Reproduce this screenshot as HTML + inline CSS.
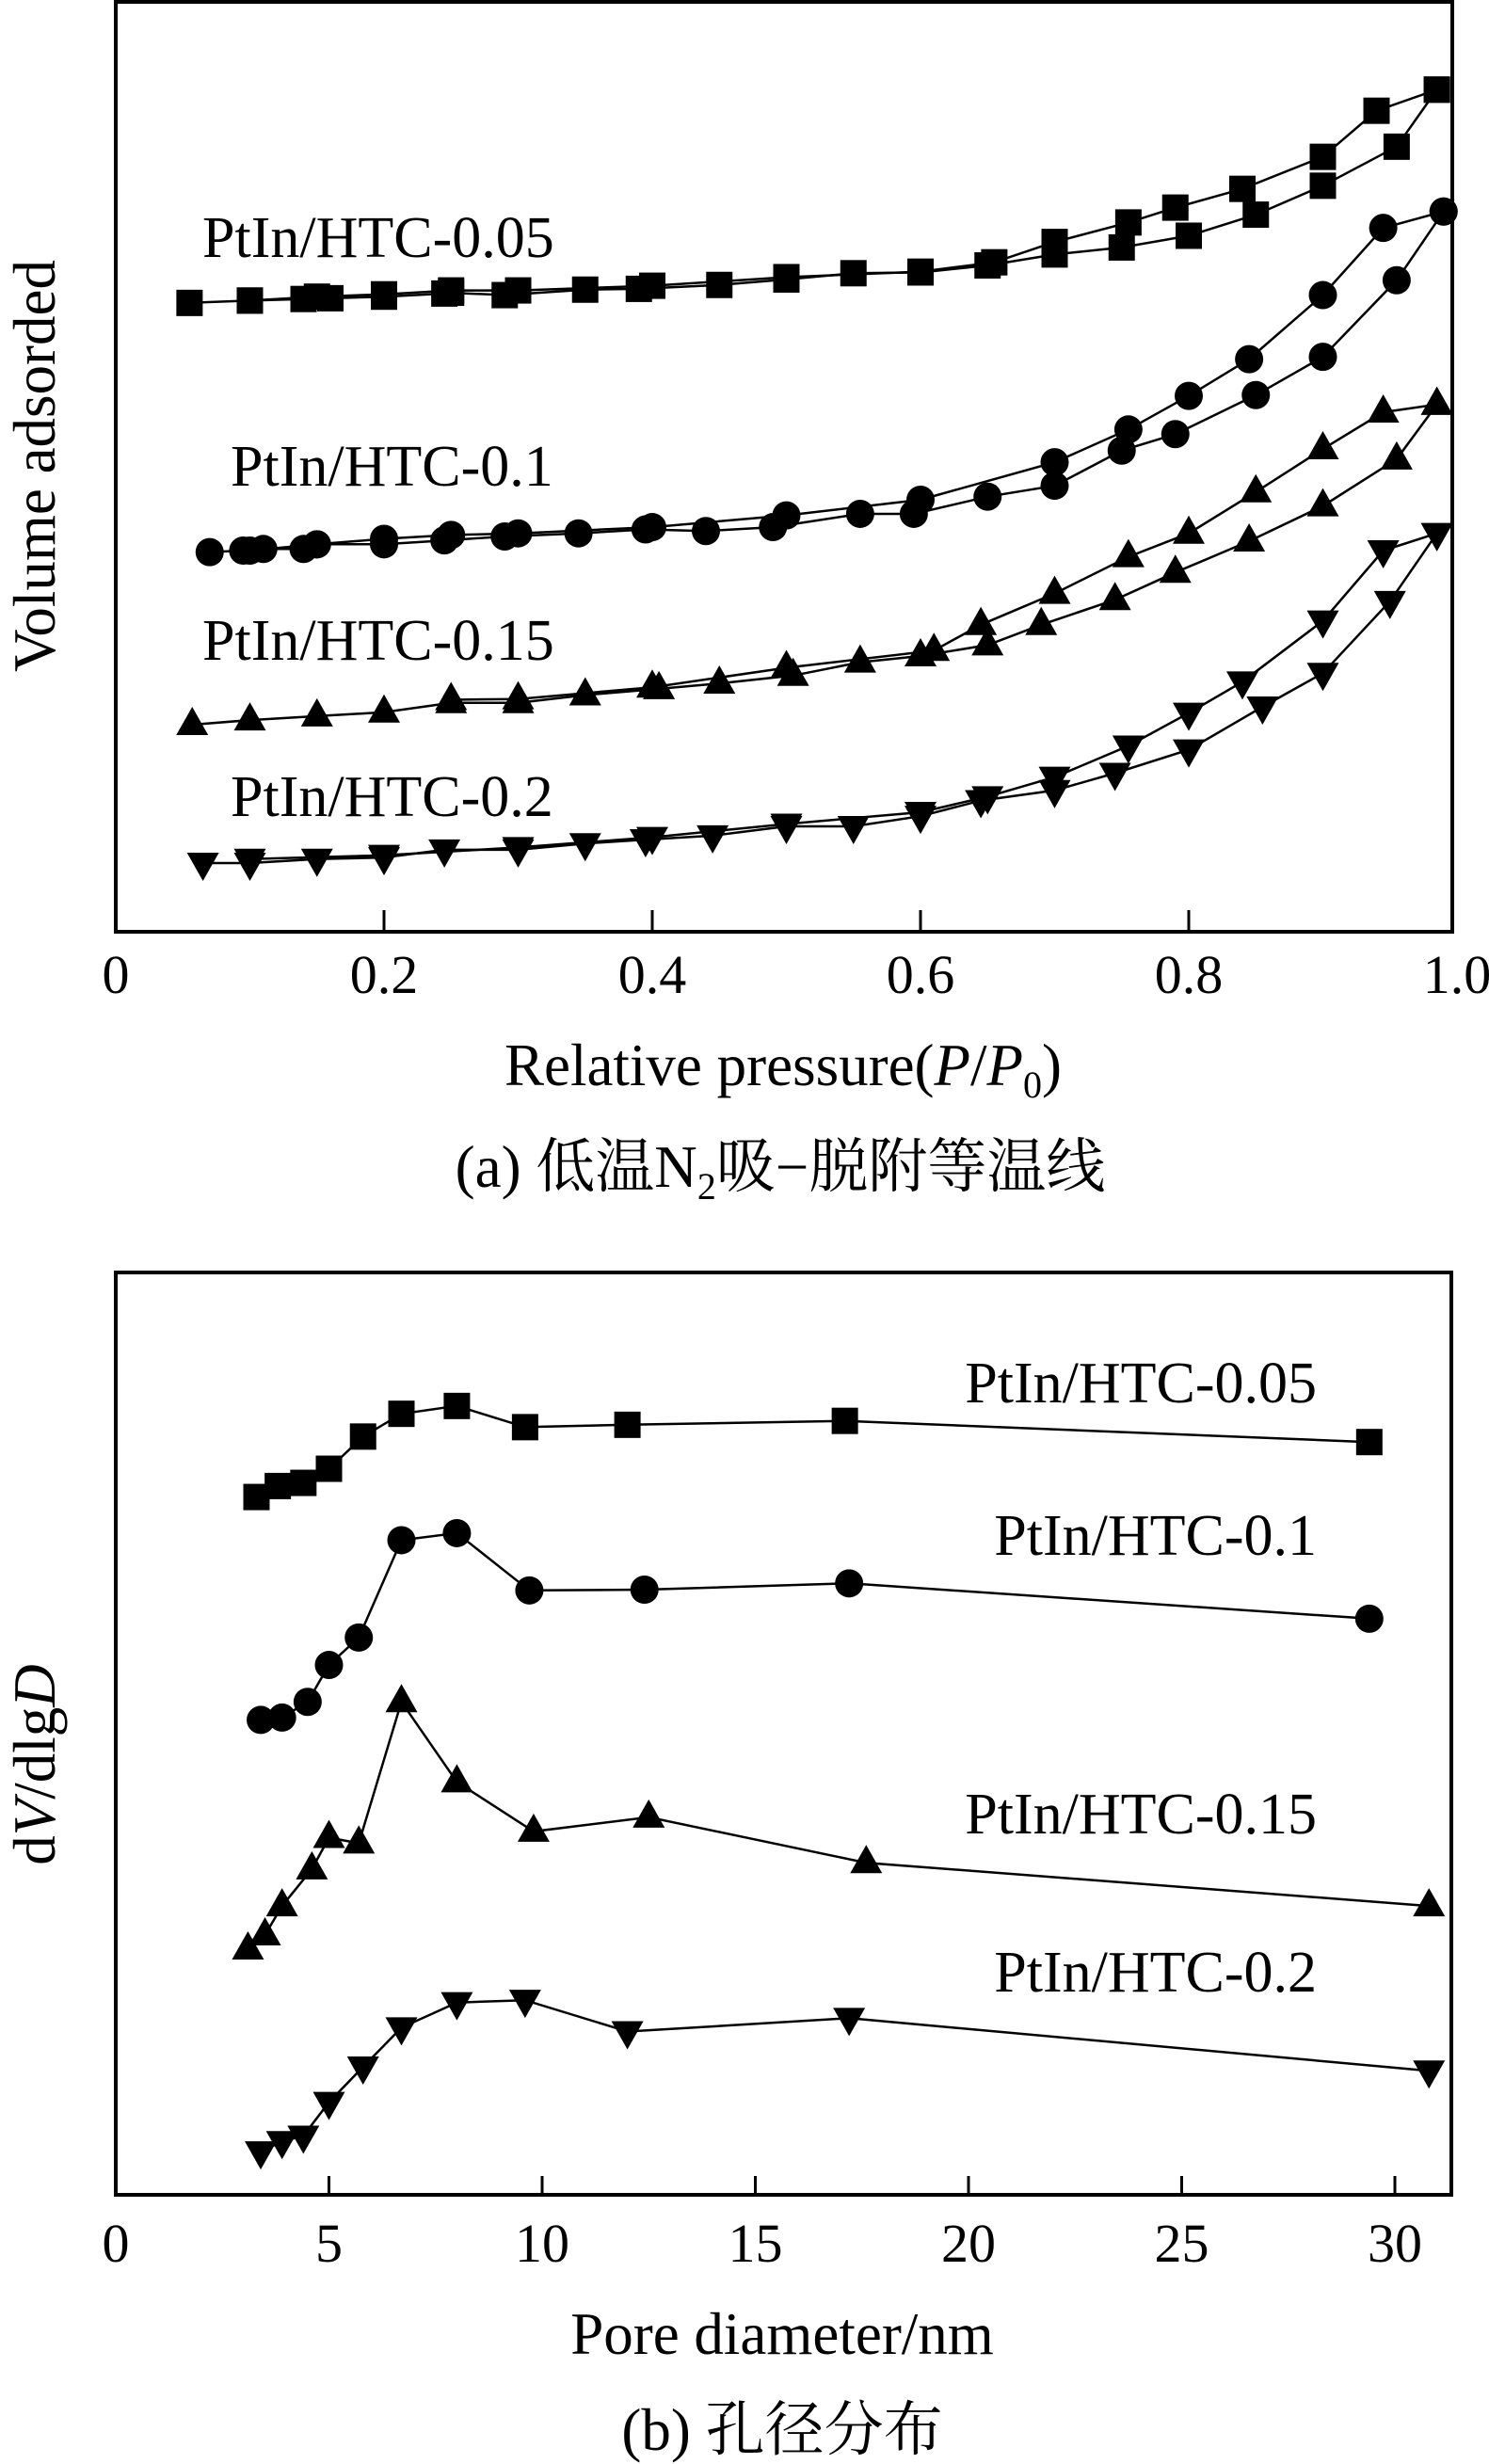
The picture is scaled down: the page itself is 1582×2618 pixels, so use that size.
<!DOCTYPE html>
<html><head><meta charset="utf-8"><style>
html,body{margin:0;padding:0;background:#fff;}
svg{display:block;}
text{font-family:"Liberation Serif","Noto Serif CJK SC","Noto Sans CJK SC",serif;fill:#000;}
</style></head><body>
<svg id="fig" width="1582" height="2618" viewBox="0 0 1582 2618" xmlns="http://www.w3.org/2000/svg">
<g id="chartA"></g>
<g id="chartB"></g>
</svg>
<script>
// ---- Chart (a) data: N2 adsorption-desorption isotherms ----
const aSqAdsX=[0.055,0.1,0.14,0.16,0.2,0.245,0.25,0.29,0.35,0.39,0.45,0.5,0.55,0.6,0.65,0.7,0.75,0.8,0.85,0.9,0.955,0.985];
const aSqAdsY=[80.5,80.8,81.0,81.1,81.3,81.7,81.8,81.5,82.2,82.3,82.8,83.5,84.3,84.4,85.3,86.7,87.6,89.1,91.8,95.5,100.5,107.8];
const aSqDesX=[0.985,0.94,0.9,0.84,0.79,0.755,0.7,0.655,0.6,0.5,0.4,0.3,0.25,0.2,0.15,0.1];
const aSqDesY=[107.8,105.1,99.2,95.1,92.7,90.8,88.3,85.7,84.5,83.8,82.7,82.1,82.1,81.6,81.3,80.8];
const aCiAdsX=[0.07,0.095,0.11,0.14,0.15,0.2,0.245,0.29,0.345,0.395,0.44,0.49,0.555,0.595,0.65,0.7,0.75,0.79,0.85,0.9,0.955,0.99];
const aCiAdsY=[48.6,48.8,49.0,49.0,49.6,49.6,50.1,50.6,51.0,51.5,51.3,51.8,53.5,53.5,55.7,57.1,61.6,63.7,68.7,73.6,83.4,92.2];
const aCiDesX=[0.99,0.945,0.9,0.845,0.8,0.755,0.7,0.6,0.5,0.4,0.3,0.25,0.2,0.15,0.1];
const aCiDesY=[92.2,90.1,81.5,73.3,68.6,64.3,60.1,55.3,53.3,51.8,51.0,50.8,50.3,49.6,48.8];
const aTrAdsX=[0.057,0.1,0.15,0.2,0.25,0.3,0.35,0.405,0.45,0.505,0.555,0.6,0.65,0.69,0.745,0.79,0.845,0.9,0.955,0.985];
const aTrAdsY=[26.5,27.1,27.6,28.1,29.3,29.3,30.3,31.1,31.8,32.8,34.5,35.3,36.7,39.3,42.5,46.0,50.0,54.5,60.5,67.5];
const aTrDesX=[0.985,0.945,0.9,0.85,0.8,0.755,0.7,0.645,0.61,0.5,0.4,0.3,0.25];
const aTrDesY=[67.5,66.5,61.8,56.3,51.0,48.0,43.3,39.3,36.0,33.8,31.3,29.8,29.7];
const aInAdsX=[0.065,0.1,0.15,0.2,0.245,0.3,0.35,0.395,0.445,0.5,0.55,0.6,0.645,0.7,0.745,0.8,0.855,0.9,0.95,0.985];
const aInAdsY=[8.8,8.8,9.3,9.5,10.5,10.5,11.3,11.8,12.3,13.5,13.5,14.8,16.8,18.1,20.3,23.3,28.8,33.1,42.3,51.0];
const aInDesX=[0.985,0.945,0.9,0.84,0.8,0.755,0.7,0.65,0.6,0.5,0.4,0.3,0.2,0.1];
const aInDesY=[51.0,48.8,39.8,32.0,28.0,23.8,19.8,17.3,15.3,13.8,12.1,10.8,9.8,9.3];
const aTicks=[0,0.2,0.4,0.6,0.8,1.0];
const aTickLabels=["0","0.2","0.4","0.6","0.8","1.0"];

// ---- Chart (b) data: pore size distribution ----
const bSqX=[3.3,3.8,4.4,5.0,5.8,6.7,8.0,9.6,12.0,17.1,29.4];
const bSqY=[88.9,90.3,90.7,92.5,96.6,99.5,100.5,97.8,98.1,98.6,95.9];
const bCiX=[3.4,3.9,4.5,5.0,5.7,6.7,8.0,9.7,12.4,17.2,29.4];
const bCiY=[60.5,60.8,62.8,67.5,71.0,83.4,84.3,77.0,77.1,77.9,73.4];
const bTrX=[3.1,3.5,3.9,4.6,5.0,5.7,6.7,8.0,9.8,12.5,17.6,30.8];
const bTrY=[31.3,33.1,36.8,41.5,45.5,44.8,62.8,52.6,46.3,48.1,42.3,36.8];
const bInX=[3.4,3.9,4.4,5.0,5.8,6.7,8.0,9.6,12.0,17.2,30.8];
const bInY=[5.5,6.8,7.5,11.8,16.3,21.3,24.5,24.8,20.8,22.5,15.8];
const bTicks=[0,5,10,15,20,25,30];
const bTickLabels=["0","5","10","15","20","25","30"];

const NS="http://www.w3.org/2000/svg";
function mk(tag,attrs,parent){const e=document.createElementNS(NS,tag);for(const k in attrs)e.setAttribute(k,attrs[k]);parent.appendChild(e);return e;}

const axA={x:v=>123+v*1425, y:v=>990-v*8.3, left:123,right:1543,top:2,bottom:990};
const axB={x:v=>123+v*45.3, y:v=>2332-v*8.34, left:123,right:1542,top:1352,bottom:2332};

function marker(g,type,cx,cy){
  let e;
  if(type==='sq'){e=mk('rect',{x:cx-14,y:cy-14,width:28,height:28,fill:'#000'},g);}
  else if(type==='ci'){e=mk('circle',{cx:cx,cy:cy,r:15,fill:'#000'},g);}
  else if(type==='tr'){e=mk('polygon',{points:`${cx},${cy-19} ${cx-17},${cy+11} ${cx+17},${cy+11}`,fill:'#000'},g);}
  else {e=mk('polygon',{points:`${cx},${cy+19} ${cx-17},${cy-11} ${cx+17},${cy-11}`,fill:'#000'},g);}
  
  
}
function series(g,ax,xs,ys,type,name){
  const sg=mk('g',{},g);
  
  
  const pts=xs.map((x,i)=>ax.x(x).toFixed(1)+','+ax.y(ys[i]).toFixed(1)).join(' ');
  const pl=mk('polyline',{points:pts,fill:'none',stroke:'#000','stroke-width':2.5},sg);
  
  
  xs.forEach((x,i)=>marker(sg,type,ax.x(x),ax.y(ys[i])));
}
function frame(g,ax,ticks,labels,tickLen,labelY,name){
  const r=mk('rect',{x:ax.left,y:ax.top,width:ax.right-ax.left,height:ax.bottom-ax.top,fill:'none',stroke:'#000','stroke-width':4},g);
  
  
  ticks.forEach((t,i)=>{
    const x=ax.x(t);
    if(i>0 && x<ax.right-2){const l=mk('line',{x1:x,y1:ax.bottom,x2:x,y2:ax.bottom-tickLen,stroke:'#000','stroke-width':3},g);
      
      }
    const tx=mk('text',{x:x,y:labelY,'font-size':58,'text-anchor':'middle'},g);
    tx.textContent=labels[i];
    
    
  });
}
function label(g,txt,x,y,anchor,name){
  const t=mk('text',{x:x,y:y,'font-size':62,'text-anchor':anchor},g);
  t.textContent=txt;
  
  
}

const gA=document.getElementById('chartA');
frame(gA,axA,aTicks,aTickLabels,23,1055,'isotherm');
series(gA,axA,aSqAdsX,aSqAdsY,'sq','series-0.05-adsorption');
series(gA,axA,aSqDesX,aSqDesY,'sq','series-0.05-desorption');
series(gA,axA,aCiAdsX,aCiAdsY,'ci','series-0.1-adsorption');
series(gA,axA,aCiDesX,aCiDesY,'ci','series-0.1-desorption');
series(gA,axA,aTrAdsX,aTrAdsY,'tr','series-0.15-adsorption');
series(gA,axA,aTrDesX,aTrDesY,'tr','series-0.15-desorption');
series(gA,axA,aInAdsX,aInAdsY,'in','series-0.2-adsorption');
series(gA,axA,aInDesX,aInDesY,'in','series-0.2-desorption');
label(gA,'PtIn/HTC-0.05',215,273,'start','label-0.05');
label(gA,'PtIn/HTC-0.1',245,516,'start','label-0.1');
label(gA,'PtIn/HTC-0.15',215,701,'start','label-0.15');
label(gA,'PtIn/HTC-0.2',245,867,'start','label-0.2');

const gB=document.getElementById('chartB');
frame(gB,axB,bTicks,bTickLabels,20,2403,'pore');
series(gB,axB,bSqX,bSqY,'sq','series-0.05');
series(gB,axB,bCiX,bCiY,'ci','series-0.1');
series(gB,axB,bTrX,bTrY,'tr','series-0.15');
series(gB,axB,bInX,bInY,'in','series-0.2');
label(gB,'PtIn/HTC-0.05',1399,1490,'end','label-b-0.05');
label(gB,'PtIn/HTC-0.1',1399,1652,'end','label-b-0.1');
label(gB,'PtIn/HTC-0.15',1399,1948,'end','label-b-0.15');
label(gB,'PtIn/HTC-0.2',1399,2116,'end','label-b-0.2');
</script>
<svg style="position:absolute;left:0;top:0" width="1582" height="2618">
<text x="58" y="495" font-size="63" text-anchor="middle" transform="rotate(-90 58 495)">Volume adsorded</text>
<text x="832" y="1153" font-size="63" text-anchor="middle">Relative pressure(<tspan font-style="italic">P</tspan>/<tspan font-style="italic">P</tspan><tspan font-size="40" dy="13">0</tspan><tspan dy="-13">)</tspan></text>
<text x="829" y="1261" font-size="63" text-anchor="middle">(a) 低温N<tspan font-size="40" dy="13">2</tspan><tspan dy="-13">吸−脱附等温线</tspan></text>
<text x="58" y="1875" font-size="63" text-anchor="middle" transform="rotate(-90 58 1875)">d<tspan font-style="italic">V</tspan>/dlg<tspan font-style="italic">D</tspan></text>
<text x="831" y="2501" font-size="63" text-anchor="middle">Pore diameter/nm</text>
<text x="831" y="2603" font-size="63" text-anchor="middle">(b) 孔径分布</text>
</svg>
</body></html>
